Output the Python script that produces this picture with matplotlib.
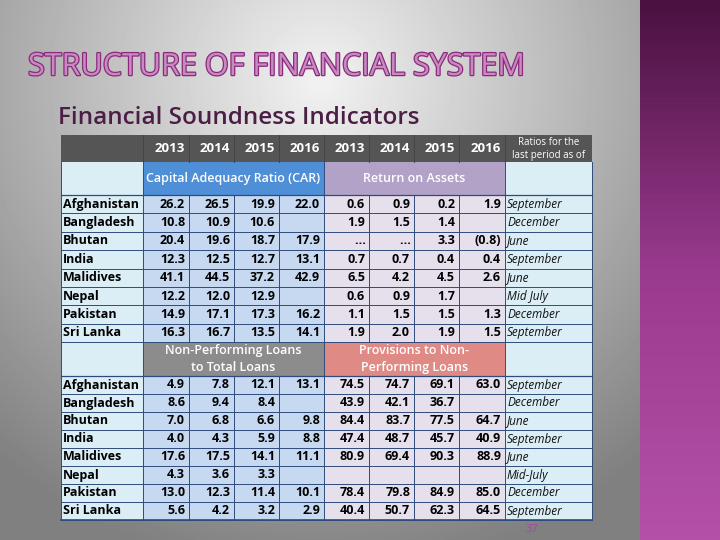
import numpy as np
import matplotlib.pyplot as plt
from matplotlib.patches import Rectangle
from matplotlib.colors import LinearSegmentedColormap
import matplotlib.patheffects as pe

years = ["2013", "2014", "2015", "2016"]
countries = ["Afghanistan", "Bangladesh", "Bhutan", "India", "Malidives", "Nepal", "Pakistan", "Sri Lanka"]
car = [["26.2", "26.5", "19.9", "22.0"], ["10.8", "10.9", "10.6", ""], ["20.4", "19.6", "18.7", "17.9"],
       ["12.3", "12.5", "12.7", "13.1"], ["41.1", "44.5", "37.2", "42.9"], ["12.2", "12.0", "12.9", ""],
       ["14.9", "17.1", "17.3", "16.2"], ["16.3", "16.7", "13.5", "14.1"]]
roa = [["0.6", "0.9", "0.2", "1.9"], ["1.9", "1.5", "1.4", ""], ["\u2026", "\u2026", "3.3", "(0.8)"],
       ["0.7", "0.7", "0.4", "0.4"], ["6.5", "4.2", "4.5", "2.6"], ["0.6", "0.9", "1.7", ""],
       ["1.1", "1.5", "1.5", "1.3"], ["1.9", "2.0", "1.9", "1.5"]]
npl = [["4.9", "7.8", "12.1", "13.1"], ["8.6", "9.4", "8.4", ""], ["7.0", "6.8", "6.6", "9.8"],
       ["4.0", "4.3", "5.9", "8.8"], ["17.6", "17.5", "14.1", "11.1"], ["4.3", "3.6", "3.3", ""],
       ["13.0", "12.3", "11.4", "10.1"], ["5.6", "4.2", "3.2", "2.9"]]
prov = [["74.5", "74.7", "69.1", "63.0"], ["43.9", "42.1", "36.7", ""], ["84.4", "83.7", "77.5", "64.7"],
        ["47.4", "48.7", "45.7", "40.9"], ["80.9", "69.4", "90.3", "88.9"], ["", "", "", ""],
        ["78.4", "79.8", "84.9", "85.0"], ["40.4", "50.7", "62.3", "64.5"]]
periods1 = ["September", "December", "June", "September", "June", "Mid July", "December", "September"]
periods2 = ["September", "December", "June", "September", "June", "Mid-July", "December", "September"]

plt.rcParams['font.family'] = ['Open Sans', 'DejaVu Sans']

fig = plt.figure(figsize=(7.2, 5.4), dpi=100)
ax = fig.add_axes([0, 0, 1, 1])
ax.set_xlim(0, 720)
ax.set_ylim(540, 0)
ax.axis('off')

# slide background
yy, xx = np.mgrid[0:540, 0:640]
r = np.sqrt(((xx - 320) / 420) ** 2 + ((yy - 80) / 420) ** 2)
bg = np.clip(0.95 - 0.38 * r, 0.5, 0.95)
ax.imshow(bg, cmap='gray', vmin=0, vmax=1, extent=(0, 640, 540, 0), zorder=0)
grad = np.linspace(0, 1, 100).reshape(-1, 1)
pcm = LinearSegmentedColormap.from_list('p', ['#4a1240', '#9a3a8e', '#b450a8'])
ax.imshow(grad, cmap=pcm, extent=(640, 720, 540, 0), aspect='auto', zorder=0)

ax.text(28, 67, "STRUCTURE OF FINANCIAL SYSTEM", fontsize=22, color='#c98ac2', va='center',
        path_effects=[pe.withStroke(linewidth=1.8, foreground='#8a2a7c')])
ax.text(58, 118, "Financial Soundness Indicators", fontsize=17.5, color='#4b1f45', va='center', fontweight='semibold')

# table layout
xs = [61, 143, 189, 234, 279, 324, 369, 414, 459, 505, 592]
line = '#2f4b7c'

def cell(x0, x1, y0, y1, c):
    ax.add_patch(Rectangle((x0, y0), x1 - x0, y1 - y0, facecolor=c, edgecolor='none', zorder=1))

def block(top, bottom, vals1, vals2, periods):
    nrow = len(countries)
    h = (bottom - top) / nrow
    cell(xs[0], xs[1], top, bottom, '#dbeef6')
    cell(xs[9], xs[10], top, bottom, '#dbeef6')
    for j in range(4):
        cell(xs[1 + j], xs[2 + j], top, bottom, '#c6d9f1')
        cell(xs[5 + j], xs[6 + j], top, bottom, '#e6e0ec')
    for i in range(nrow):
        yc = top + h * (i + 0.5)
        ax.text(xs[0] + 2, yc, countries[i], fontsize=9, fontweight='bold', va='center', zorder=3)
        for j in range(4):
            ax.text(xs[2 + j] - 4, yc, vals1[i][j], fontsize=9, fontweight='bold', va='center', ha='right', zorder=3)
            ax.text(xs[6 + j] - 4, yc, vals2[i][j], fontsize=9, fontweight='bold', va='center', ha='right', zorder=3)
        ax.text(xs[9] + 2, yc, periods[i], fontsize=8.5, style='italic', va='center', zorder=3, color='#111')
        ax.plot([xs[0], xs[10]], [top + h * (i + 1)] * 2, color=line, lw=0.7, zorder=2)
    for x in xs:
        ax.plot([x, x], [top, bottom], color=line, lw=0.7, zorder=2)

# header
cell(xs[0], xs[10], 135, 162, '#555555')
for j in range(8):
    ax.text(xs[j + 2] - 4, 149, years[j % 4], fontsize=9.5, color='white', fontweight='bold', ha='right', va='center', zorder=3)
ax.text((xs[9] + xs[10]) / 2, 149, "Ratios for the\nlast period as of", fontsize=7, color='white', ha='center', va='center', zorder=3, linespacing=1.3)
for x in xs[1:10]:
    ax.plot([x, x], [135, 162], color='#444', lw=0.7, zorder=2)

# section bands
def band(top, bottom, c1, c2, t1, t2, txtc):
    cell(xs[0], xs[10], top, bottom, '#dbeef6')
    cell(xs[1], xs[5], top, bottom, c1)
    cell(xs[5], xs[9], top, bottom, c2)
    ax.text((xs[1] + xs[5]) / 2, (top + bottom) / 2, t1, fontsize=9, color=txtc, ha='center', va='center', zorder=3,
            linespacing=1.35, fontweight='semibold')
    ax.text((xs[5] + xs[9]) / 2, (top + bottom) / 2, t2, fontsize=9, color=txtc, ha='center', va='center', zorder=3,
            linespacing=1.35, fontweight='semibold')
    for x in [xs[0], xs[1], xs[5], xs[9], xs[10]]:
        ax.plot([x, x], [top, bottom], color=line, lw=0.7, zorder=2)
    ax.plot([xs[0], xs[10]], [bottom, bottom], color=line, lw=0.9, zorder=2)

band(162, 195, '#4f8fd8', '#b3a2c7', "Capital Adequacy Ratio (CAR)", "Return on Assets", 'white')
block(195, 342, car, roa, periods1)
band(342, 376, '#8c8c8c', '#e08a86', "Non-Performing Loans\nto Total Loans", "Provisions to Non-\nPerforming Loans", 'white')
block(376, 520, npl, prov, periods2)
ax.plot([xs[0], xs[10]], [520, 520], color=line, lw=1.2, zorder=2)

ax.text(532, 529, "37", fontsize=8, color='#a04a98', ha='center', va='center')

plt.savefig("out.png", dpi=100)
